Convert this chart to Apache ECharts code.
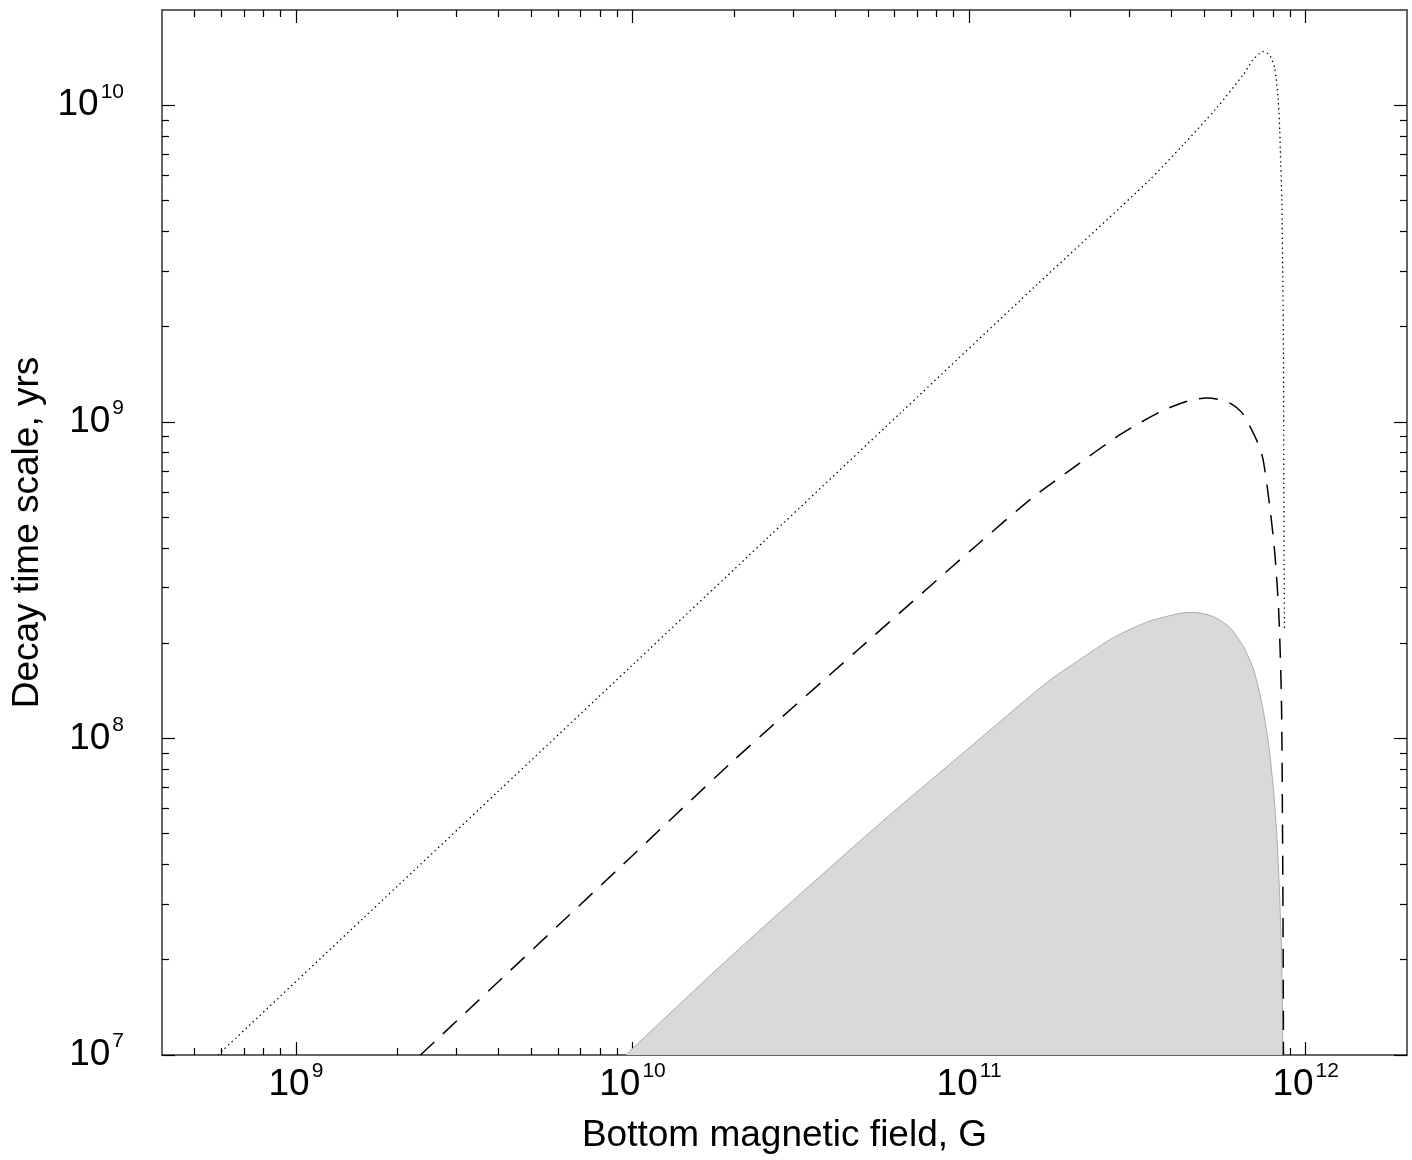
<!DOCTYPE html>
<html>
<head>
<meta charset="utf-8">
<script src="https://cdn.jsdelivr.net/npm/echarts@6/dist/echarts.min.js"></script>
<style>
  html, body { margin: 0; padding: 0; background: #fff; }
  #chart { width: 1412px; height: 1160px; }
</style>
</head>
<body>
<div id="chart"></div>
<script>
// values are log10 of the field (G) and of the decay time (yrs)
const dottedB = [8.768, 9.2, 9.6, 10.0, 10.4, 10.8, 11.2, 11.536, 11.635, 11.734, 11.814, 11.843, 11.862, 11.873, 11.884, 11.895, 11.908, 11.918, 11.923, 11.926, 11.929, 11.932, 11.934, 11.935, 11.936, 11.937];
const dottedT = [7.0, 7.432, 7.832, 8.232, 8.632, 9.032, 9.432, 9.764, 9.874, 9.99, 10.096, 10.143, 10.163, 10.17, 10.166, 10.155, 10.117, 10.022, 9.918, 9.811, 9.706, 9.45, 9.23, 8.8, 8.55, 8.34];

const dashedB = [9.37, 9.97, 10.3, 10.67, 11.02, 11.19, 11.304, 11.452, 11.566, 11.626, 11.665, 11.705, 11.745, 11.779, 11.81, 11.833, 11.855, 11.873, 11.893, 11.908, 11.92, 11.928, 11.931, 11.933, 11.934];
const dashedT = [7.0, 7.6, 7.93, 8.28, 8.608, 8.762, 8.851, 8.962, 9.031, 9.057, 9.07, 9.075, 9.07, 9.057, 9.03, 8.988, 8.94, 8.883, 8.735, 8.588, 8.398, 8.12, 7.75, 7.35, 7.0];

const grayB = [9.98, 10.25, 10.5, 10.75, 11.0, 11.23, 11.33, 11.43, 11.53, 11.63, 11.67, 11.725, 11.775, 11.815, 11.845, 11.87, 11.89, 11.905, 11.915, 11.922, 11.928, 11.931, 11.932];
const grayT = [7.0, 7.27, 7.51, 7.745, 7.97, 8.176, 8.25, 8.319, 8.368, 8.396, 8.398, 8.385, 8.35, 8.29, 8.218, 8.11, 7.98, 7.83, 7.68, 7.52, 7.33, 7.15, 7.0];

// axis decades (exponents) and minor tick multipliers
const xDecades = [8, 9, 10, 11, 12];
const yDecades = [7, 8, 9, 10];
const xMajor = [9, 10, 11, 12];
const yMajor = [7, 8, 9, 10];
const minorSteps = [2, 3, 4, 5, 6, 7, 8, 9];

const xMin = Math.log10(4e8), xMax = Math.log10(2e12);
const yMin = 7, yMax = Math.log10(2e10);

function minorTicks(decades, lo, hi) {
  const out = [];
  decades.forEach(d => minorSteps.forEach(k => {
    const v = d + Math.log10(k);
    if (v > lo + 1e-6 && v < hi - 1e-6) out.push(v);
  }));
  return out;
}
const xMinor = minorTicks(xDecades, xMin, xMax);
const yMinor = minorTicks(yDecades, yMin, yMax);

const zip = (a, b) => a.map((v, i) => [v, b[i]]);

const FONT = '"Liberation Sans", Arial, Helvetica, sans-serif';
const rich = {
  b: { fontSize: 37, lineHeight: 48, fontFamily: FONT, color: '#000' },
  s: { fontSize: 21, lineHeight: 21, fontFamily: FONT, color: '#000', verticalAlign: 'top', padding: [0, 0, 0, 2] }
};
const powLabel = v => '{b|10}{s|' + Math.round(v) + '}';

function axis(dim, position, ticks, len, withLine, label) {
  const a = {
    type: 'value',
    position: position,
    min: dim === 'x' ? xMin : yMin,
    max: dim === 'x' ? xMax : yMax,
    axisLine: { show: withLine, onZero: false, lineStyle: { color: '#333', width: 1.5 } },
    axisTick: { show: true, inside: true, length: len, customValues: ticks,
      lineStyle: { color: '#000', width: 1.2 } },
    splitLine: { show: false },
    axisLabel: { show: false }
  };
  if (label) a.axisLabel = label;
  return a;
}

const chart = echarts.init(document.getElementById('chart'));
chart.setOption({
  animation: false,
  backgroundColor: '#fff',
  grid: { left: 162, right: 5, top: 10, bottom: 105, containLabel: false },
  xAxis: [
    Object.assign(axis('x', 'bottom', xMajor, 13, true, {
      show: true, customValues: xMajor, margin: 6, formatter: powLabel, rich: rich
    }), {
      name: 'Bottom magnetic field, G', nameLocation: 'middle', nameGap: 62,
      nameTextStyle: { fontSize: 37, fontFamily: FONT, color: '#000' }
    }),
    axis('x', 'bottom', xMinor, 7, false),
    axis('x', 'top', xMajor, 13, true),
    axis('x', 'top', xMinor, 7, false)
  ],
  yAxis: [
    Object.assign(axis('y', 'left', yMajor, 13, true, {
      show: true, customValues: yMajor, margin: 38, formatter: powLabel, rich: rich
    }), {
      name: 'Decay time scale, yrs', nameLocation: 'middle', nameGap: 112,
      nameTextStyle: { fontSize: 37, fontFamily: FONT, color: '#000' }
    }),
    axis('y', 'left', yMinor, 7, false),
    axis('y', 'right', yMajor, 13, true),
    axis('y', 'right', yMinor, 7, false)
  ],
  series: [
    {
      type: 'line', data: zip(grayB, grayT), symbol: 'none', smooth: 0.25,
      lineStyle: { color: '#9a9a9a', width: 0.8 },
      areaStyle: { color: '#d9d9d9', opacity: 1, origin: 'start' },
      z: 1
    },
    {
      type: 'line', data: zip(dashedB, dashedT), symbol: 'none', smooth: 0.25,
      lineStyle: { color: '#000', width: 1.5, type: [19, 12] },
      z: 3
    },
    {
      type: 'line', data: zip(dottedB, dottedT), symbol: 'none', smooth: 0.25,
      lineStyle: { color: '#000', width: 1.3, type: [1.4, 3.4] },
      z: 3
    }
  ]
});
</script>
</body>
</html>
